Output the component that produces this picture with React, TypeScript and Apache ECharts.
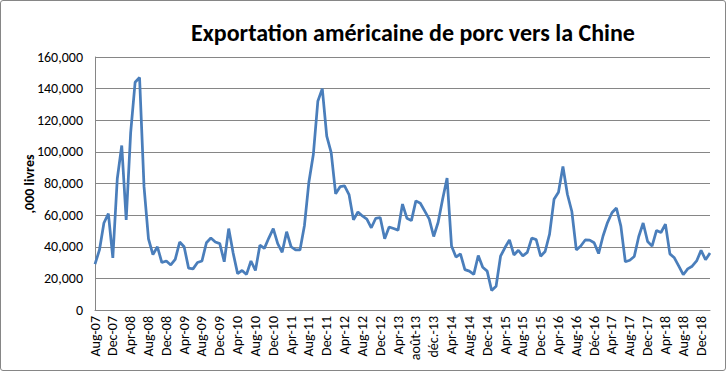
import React, { useEffect, useRef } from "react";
import * as echarts from "echarts";

const monthNames = ["Jan", "Feb", "Mar", "Apr", "May", "Jun", "Jul", "Aug", "Sep", "Oct", "Nov", "Dec"];
const labelOverrides: Record<number, string> = { 72: "août-13", 76: "déc.-13", 112: "Déc-16" };

const exports: number[] = [
  29000, 38000, 55000, 61000, 33000, 83000, 104000, 57000, 112000, 144000,
  147000, 78000, 45000, 35000, 40000, 30000, 31000, 28500, 32000, 43000,
  40000, 26500, 26000, 30000, 31000, 42500, 45500, 43000, 42000, 30500,
  51500, 36000, 23000, 25000, 22500, 31000, 25000, 41000, 39000, 45500,
  51500, 42000, 36500, 49500, 40000, 38000, 38000, 53500, 81000, 98500,
  132000, 140000, 110000, 99500, 73500, 78000, 78500, 73000, 57000, 62000,
  59500, 57500, 52000, 58000, 58500, 45000, 52500, 51500, 50500, 67000,
  58000, 56500, 69000, 67500, 62500, 57500, 46500, 55500, 70000, 83500,
  40500, 33500, 35500, 25500, 24600, 22500, 34500, 27000, 24600, 12300,
  15000, 34000, 39500, 44300, 34800, 37800, 34200, 36400, 45500, 44500,
  34000, 37000, 48000, 70000, 74500, 90800, 73200, 62300, 38000, 40500,
  44300, 44200, 42500, 35700, 46800, 55300, 61500, 64500, 53000, 30500,
  31500, 33800, 46300, 55000, 43300, 40400, 50300, 49000, 54300, 35500,
  33000, 27700, 22300, 26000, 27700, 31000, 37700, 31800, 36000,
];

const categories: string[] = exports.map((_, i) => {
  if (labelOverrides[i]) return labelOverrides[i];
  const m = (7 + i) % 12;
  const y = 7 + Math.floor((7 + i) / 12);
  return `${monthNames[m]}-${String(y).padStart(2, "0")}`;
});

const yTicks = { min: 0, max: 160000, interval: 20000 };
const yAxisTitle = ",000 livres";

export default function App() {
  const ref = useRef<HTMLDivElement>(null);
  useEffect(() => {
    document.body.style.margin = "0";
    const chart = echarts.init(ref.current!, undefined, { renderer: "svg" });
    const font = "Carlito, 'Liberation Sans', Arial, sans-serif";
    chart.setOption({
      animation: false,
      title: {
        text: "Exportation américaine de porc vers la Chine",
        left: 408,
        top: 15,
        textAlign: "center",
        textStyle: { fontFamily: font, fontSize: 24, fontWeight: "bold", color: "#000" },
      },
      graphic: [
        {
          type: "text",
          x: 29,
          y: 184,
          rotation: Math.PI / 2,
          style: {
            text: yAxisTitle,
            fontFamily: font,
            fontSize: 14,
            fontWeight: "bold",
            fill: "#000",
            align: "center",
            verticalAlign: "middle",
          },
        },
      ],
      grid: { left: 95, right: 16, top: 57, bottom: 61, containLabel: false },
      xAxis: {
        type: "category",
        data: categories,
        boundaryGap: false,
        axisLine: { lineStyle: { color: "#868686", width: 1 } },
        axisTick: { show: false },
        axisLabel: {
          interval: 3,
          rotate: 90,
          fontFamily: font,
          fontSize: 14,
          color: "#000",
          margin: 6,
        },
      },
      yAxis: {
        type: "value",
        min: yTicks.min,
        max: yTicks.max,
        interval: yTicks.interval,
        axisLine: { show: true, lineStyle: { color: "#868686", width: 1 } },
        axisTick: { show: false },
        splitLine: { lineStyle: { color: "#868686", width: 1 } },
        axisLabel: {
          fontFamily: font,
          fontSize: 14,
          color: "#000",
          margin: 12,
          formatter: (v: number) => v.toLocaleString("en-US"),
        },
      },
      series: [
        {
          type: "line",
          data: exports,
          showSymbol: false,
          symbol: "none",
          lineStyle: { color: "#4a7ebb", width: 2.75 },
        },
      ],
    });
    return () => chart.dispose();
  }, []);
  return (
    <div
      style={{
        position: "absolute",
        left: 0,
        top: 0,
        width: 726,
        height: 371,
        boxSizing: "border-box",
        border: "1px solid #868686",
        borderRadius: 3,
        background: "#fff",
      }}
    >
      <div ref={ref} style={{ position: "absolute", left: -1, top: -1, width: 726, height: 371 }} />
    </div>
  );
}
